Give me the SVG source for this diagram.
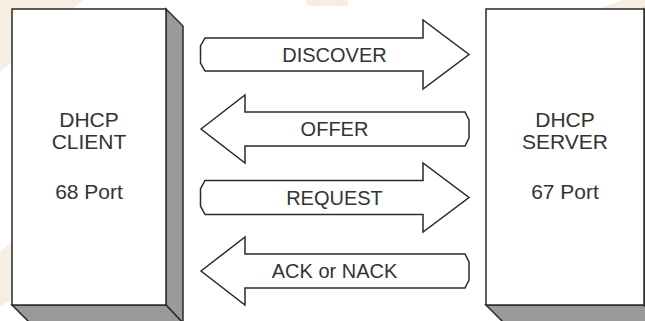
<svg xmlns="http://www.w3.org/2000/svg" width="645" height="321" viewBox="0 0 645 321">
<style>
.bg{fill:#f7eee2}
.face{fill:#ffffff;stroke:#2a2a2a;stroke-width:1.5}
.side{fill:#9a9a9a;stroke:#2a2a2a;stroke-width:1.5;stroke-linejoin:miter}
.arrow{fill:#ffffff;stroke:#2a2a2a;stroke-width:1.5;stroke-linejoin:miter}
.bt{font-family:"Liberation Sans",Arial,sans-serif;font-size:21px;fill:#333333;text-anchor:middle}
.at{font-family:"Liberation Sans",Arial,sans-serif;font-size:20px;fill:#333333;text-anchor:middle}
</style>
<rect x="0" y="0" width="645" height="321" fill="#ffffff"/>
<g id="background">
<polygon class="bg" points="0,0 83,0 0,72"/>
<polygon class="bg" points="305,0 348,0 348,6 308,6"/>
<polygon class="bg" points="598,9 622,0 645,0 645,9"/>
<polygon class="bg" points="0,252 12,242 12,300 0,306"/>
</g>
<g id="client">
<polygon class="side" points="166,9 183,26 183,323 166,305"/>
<polygon class="side" points="12,305 166,305 183,323 30,323"/>
<rect class="face" x="12" y="9" width="154" height="296"/>
<text class="bt" x="89" y="127">DHCP</text>
<text class="bt" x="89" y="149">CLIENT</text>
<text class="bt" x="89" y="199">68 Port</text>
</g>
<g id="server">
<polygon class="side" points="644,9 661,26 661,323 644,305"/>
<polygon class="side" points="486,305 644,305 661,323 504,323"/>
<rect class="face" x="486" y="9" width="158" height="296"/>
<text class="bt" x="565" y="127">DHCP</text>
<text class="bt" x="565" y="149">SERVER</text>
<text class="bt" x="565" y="199">67 Port</text>
</g>
<g id="connectors">
<g id="discover">
<polygon class="arrow" points="205,38 423,38 423,20 469,54.5 423,89 423,71 205,71 200.5,63 200.5,46"/>
<text class="at" x="334.5" y="61.5">DISCOVER</text>
</g>
<g id="offer">
<polygon class="arrow" points="201,129 245,95 245,112 465,112 469,120 469,138 465,146 245,146 245,163"/>
<text class="at" x="334.5" y="136">OFFER</text>
</g>
<g id="request">
<polygon class="arrow" points="205,180.5 423,180.5 423,163 469,197.5 423,232 423,214.5 205,214.5 200.5,206 200.5,189"/>
<text class="at" x="334.5" y="204.5">REQUEST</text>
</g>
<g id="ack">
<polygon class="arrow" points="201,271 245,237 245,254 465,254 469,262 469,280 465,288 245,288 245,305"/>
<text class="at" x="334.5" y="278">ACK or NACK</text>
</g>
</g>
</svg>
